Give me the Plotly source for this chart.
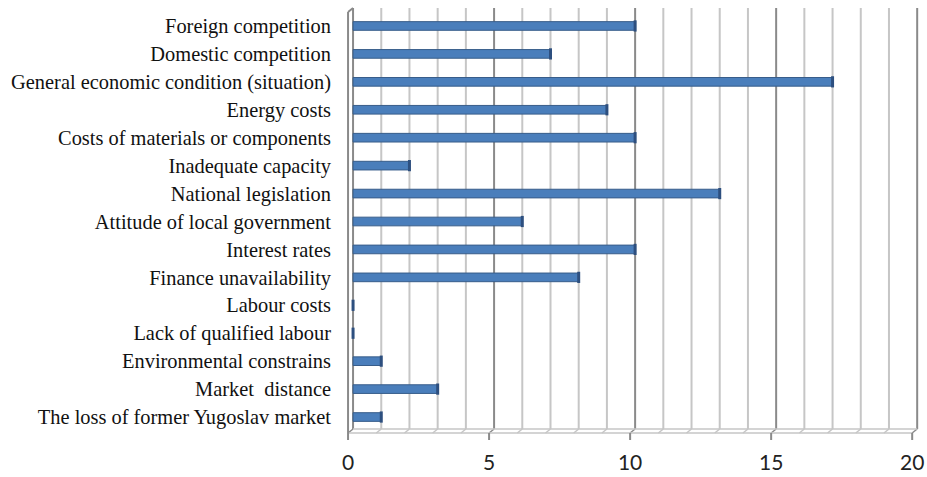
import plotly.graph_objects as go

# Obstacles to business growth, number of responses per factor
factors = [
    "Foreign competition",
    "Domestic competition",
    "General economic condition (situation)",
    "Energy costs",
    "Costs of materials or components",
    "Inadequate capacity",
    "National legislation",
    "Attitude of local government",
    "Interest rates",
    "Finance unavailability",
    "Labour costs",
    "Lack of qualified labour",
    "Environmental constrains",
    "Market  distance",
    "The loss of former Yugoslav market",
]
responses = [10, 7, 17, 9, 10, 2, 13, 6, 10, 8, 0, 0, 1, 3, 1]

x_ticks = [0, 5, 10, 15, 20]
grid_steps = list(range(0, 21))

# Pseudo-3D depth of the chart box (pixels)
DX, DY = 5, 2

W, H = 927, 477
M_L, M_R, M_T, M_B = 346, 7, 12, 46
X_MIN, X_MAX = -0.25, 20.1
plot_h = H - M_T - M_B

BAR_FILL = "#4a7ebb"
BAR_EDGE = "#385d8a"
BAR_CAP = "#2d4f7f"
MAJOR = "#8a8a8a"
MINOR = "#c6c6c6"

fig = go.Figure()

fig.add_trace(go.Bar(
    y=factors,
    x=responses,
    orientation="h",
    width=0.31,
    marker=dict(color=BAR_FILL, line=dict(color=BAR_EDGE, width=1)),
    hoverinfo="x+y",
))

# darker end face of each bar
fig.add_trace(go.Scatter(
    y=factors,
    x=responses,
    mode="markers",
    marker=dict(symbol="line-ns", size=8, line=dict(color=BAR_CAP, width=3)),
    hoverinfo="skip",
))

shapes = []
top_px = plot_h + (M_T - 8)  # back wall top, measured up from the plot bottom
for v in grid_steps:
    col = MAJOR if v % 5 == 0 else MINOR
    # back-wall gridline
    shapes.append(dict(type="line", xref="x", yref="paper",
                       xsizemode="pixel", ysizemode="pixel",
                       xanchor=v, yanchor=0,
                       x0=0, x1=0, y0=DY, y1=top_px,
                       line=dict(color=col, width=2), layer="below"))
    # floor run towards the front edge
    shapes.append(dict(type="line", xref="x", yref="paper",
                       xsizemode="pixel", ysizemode="pixel",
                       xanchor=v, yanchor=0,
                       x0=0, x1=-DX, y0=DY, y1=-DY,
                       line=dict(color=col, width=1.5), layer="below"))

# floor edges
shapes.append(dict(type="line", xref="x", yref="paper", ysizemode="pixel",
                   yanchor=0, x0=0, x1=20, y0=DY, y1=DY,
                   line=dict(color=MINOR, width=1.5), layer="below"))
px_per_unit = (W - M_L - M_R) / (X_MAX - X_MIN)
shapes.append(dict(type="line", xref="x", yref="paper",
                   xsizemode="pixel", ysizemode="pixel",
                   xanchor=0, yanchor=0,
                   x0=-DX, x1=-DX + 20 * px_per_unit, y0=-DY, y1=-DY,
                   line=dict(color=MINOR, width=1.5), layer="below"))

# left side wall: front edge and top bevel
shapes.append(dict(type="line", xref="x", yref="paper",
                   xsizemode="pixel", ysizemode="pixel",
                   xanchor=0, yanchor=0,
                   x0=-DX, x1=-DX, y0=-DY, y1=plot_h,
                   line=dict(color=MAJOR, width=2), layer="below"))
shapes.append(dict(type="line", xref="x", yref="paper",
                   xsizemode="pixel", ysizemode="pixel",
                   xanchor=0, yanchor=0,
                   x0=-DX, x1=0, y0=plot_h, y1=top_px,
                   line=dict(color=MAJOR, width=2), layer="below"))

# tick marks on the front edge
for v in x_ticks:
    shapes.append(dict(type="line", xref="x", yref="paper",
                       xsizemode="pixel", ysizemode="pixel",
                       xanchor=v, yanchor=0,
                       x0=-DX, x1=-DX, y0=-DY, y1=-9,
                       line=dict(color=MAJOR, width=2)))

fig.update_layout(
    width=W, height=H,
    margin=dict(l=M_L, r=M_R, t=M_T, b=M_B, autoexpand=False),
    paper_bgcolor="white", plot_bgcolor="white",
    showlegend=False,
    bargap=0.7,
    shapes=shapes,
    xaxis=dict(
        range=[X_MIN, X_MAX],
        tickvals=x_ticks,
        ticktext=[str(v) for v in x_ticks],
        showgrid=False, zeroline=False, showline=False,
        ticks="",
        ticklabelshift=-DX,
        ticklabelstandoff=17,
        automargin=False,
        tickfont=dict(family="Lato, 'Open Sans', sans-serif", size=21, color="#222222"),
        fixedrange=True,
    ),
    yaxis=dict(
        categoryorder="array",
        categoryarray=factors,
        range=[len(factors) - 0.5, -0.5],
        showgrid=False, zeroline=False, showline=False,
        ticks="",
        ticklabelstandoff=14,
        automargin=False,
        tickfont=dict(family="'Liberation Serif', 'Times New Roman', serif", size=20.4, color="#111111"),
        fixedrange=True,
    ),
)

fig.write_html("out.html")
